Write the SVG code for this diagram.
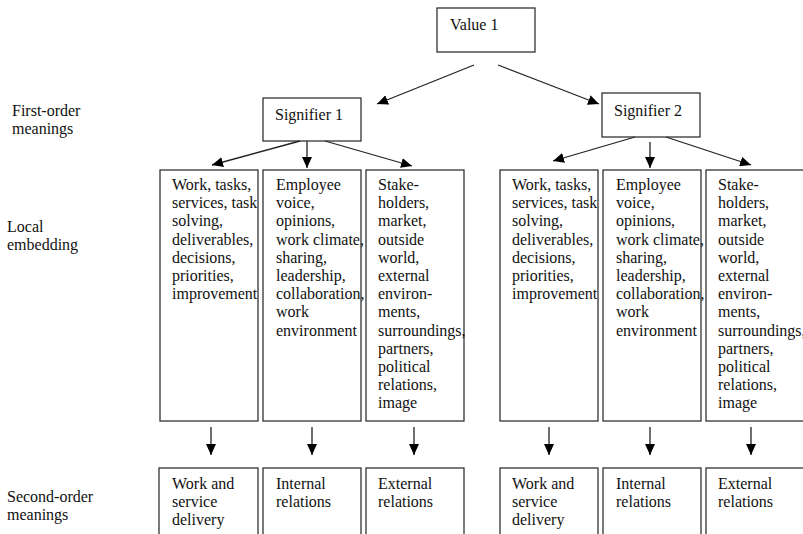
<svg xmlns="http://www.w3.org/2000/svg" width="803" height="534" viewBox="0 0 803 534" font-family="'Liberation Serif', 'Times New Roman', 'DejaVu Serif', serif" font-size="16">
<defs>
<marker id="ah" markerWidth="12" markerHeight="10" refX="11" refY="5" orient="auto" markerUnits="userSpaceOnUse">
<path d="M0,0 L11,5 L0,10 Z" fill="#000"/>
</marker>
<style>
rect{fill:#fff;stroke:#333;stroke-width:1.3}
text{font-family:'Liberation Serif','Times New Roman','DejaVu Serif',serif;font-size:16px;fill:#111}
.c line{stroke:#222;stroke-width:1.3;marker-end:url(#ah)}
</style>
</defs>
<rect x="0" y="0" width="803" height="534" style="fill:#fff;stroke:none"/>
<g id="labels">
<text x="12" y="116">First-order</text>
<text x="12" y="134">meanings</text>
<text x="7" y="232">Local</text>
<text x="7" y="250">embedding</text>
<text x="7" y="502">Second-order</text>
<text x="7" y="520">meanings</text>
</g>
<g id="value1"><rect x="437" y="8" width="98" height="44"/><text x="450" y="30">Value 1</text></g>
<g id="signifier1"><rect x="263" y="98" width="98" height="43"/><text x="275" y="120">Signifier 1</text></g>
<g id="signifier2"><rect x="602" y="93" width="98" height="44"/><text x="614" y="116">Signifier 2</text></g>
<g id="l1"><rect x="160" y="170" width="98" height="251"/>
<text x="172" y="190">Work, tasks,<tspan x="172" dy="18.2">services, task</tspan><tspan x="172" dy="18.2">solving,</tspan><tspan x="172" dy="18.2">deliverables,</tspan><tspan x="172" dy="18.2">decisions,</tspan><tspan x="172" dy="18.2">priorities,</tspan><tspan x="172" dy="18.2">improvement</tspan></text></g>
<g id="l2"><rect x="263" y="170" width="98" height="251"/>
<text x="276" y="190">Employee<tspan x="276" dy="18.2">voice,</tspan><tspan x="276" dy="18.2">opinions,</tspan><tspan x="276" dy="18.2">work climate,</tspan><tspan x="276" dy="18.2">sharing,</tspan><tspan x="276" dy="18.2">leadership,</tspan><tspan x="276" dy="18.2">collaboration,</tspan><tspan x="276" dy="18.2">work</tspan><tspan x="276" dy="18.2">environment</tspan></text></g>
<g id="l3"><rect x="366" y="170" width="98" height="251"/>
<text x="378" y="190">Stake-<tspan x="378" dy="18.2">holders,</tspan><tspan x="378" dy="18.2">market,</tspan><tspan x="378" dy="18.2">outside</tspan><tspan x="378" dy="18.2">world,</tspan><tspan x="378" dy="18.2">external</tspan><tspan x="378" dy="18.2">environ-</tspan><tspan x="378" dy="18.2">ments,</tspan><tspan x="378" dy="18.2">surroundings,</tspan><tspan x="378" dy="18.2">partners,</tspan><tspan x="378" dy="18.2">political</tspan><tspan x="378" dy="18.2">relations,</tspan><tspan x="378" dy="18.2">image</tspan></text></g>
<g id="l4"><rect x="500" y="170" width="98" height="251"/>
<text x="512" y="190">Work, tasks,<tspan x="512" dy="18.2">services, task</tspan><tspan x="512" dy="18.2">solving,</tspan><tspan x="512" dy="18.2">deliverables,</tspan><tspan x="512" dy="18.2">decisions,</tspan><tspan x="512" dy="18.2">priorities,</tspan><tspan x="512" dy="18.2">improvement</tspan></text></g>
<g id="l5"><rect x="603" y="170" width="98" height="251"/>
<text x="616" y="190">Employee<tspan x="616" dy="18.2">voice,</tspan><tspan x="616" dy="18.2">opinions,</tspan><tspan x="616" dy="18.2">work climate,</tspan><tspan x="616" dy="18.2">sharing,</tspan><tspan x="616" dy="18.2">leadership,</tspan><tspan x="616" dy="18.2">collaboration,</tspan><tspan x="616" dy="18.2">work</tspan><tspan x="616" dy="18.2">environment</tspan></text></g>
<g id="l6"><rect x="706" y="170" width="100" height="251"/>
<text x="718" y="190">Stake-<tspan x="718" dy="18.2">holders,</tspan><tspan x="718" dy="18.2">market,</tspan><tspan x="718" dy="18.2">outside</tspan><tspan x="718" dy="18.2">world,</tspan><tspan x="718" dy="18.2">external</tspan><tspan x="718" dy="18.2">environ-</tspan><tspan x="718" dy="18.2">ments,</tspan><tspan x="718" dy="18.2">surroundings,</tspan><tspan x="718" dy="18.2">partners,</tspan><tspan x="718" dy="18.2">political</tspan><tspan x="718" dy="18.2">relations,</tspan><tspan x="718" dy="18.2">image</tspan></text></g>
<g id="s1"><rect x="159" y="468" width="99" height="80"/><text x="172" y="489">Work and<tspan x="172" dy="18.2">service</tspan><tspan x="172" dy="18.2">delivery</tspan></text></g>
<g id="s2"><rect x="263" y="468" width="98" height="80"/><text x="276" y="489">Internal<tspan x="276" dy="18.2">relations</tspan></text></g>
<g id="s3"><rect x="366" y="468" width="98" height="80"/><text x="378" y="489">External<tspan x="378" dy="18.2">relations</tspan></text></g>
<g id="s4"><rect x="500" y="468" width="98" height="80"/><text x="512" y="489">Work and<tspan x="512" dy="18.2">service</tspan><tspan x="512" dy="18.2">delivery</tspan></text></g>
<g id="s5"><rect x="603" y="468" width="98" height="80"/><text x="616" y="489">Internal<tspan x="616" dy="18.2">relations</tspan></text></g>
<g id="s6"><rect x="706" y="468" width="100" height="80"/><text x="718" y="489">External<tspan x="718" dy="18.2">relations</tspan></text></g>
<g id="connectors" class="c">
<line x1="474" y1="65" x2="377" y2="104"/>
<line x1="498" y1="65" x2="599" y2="104"/>
<line x1="300" y1="141" x2="212" y2="165"/>
<line x1="307" y1="141" x2="307" y2="168"/>
<line x1="325" y1="141" x2="412" y2="166"/>
<line x1="635" y1="137" x2="553" y2="161"/>
<line x1="650" y1="142" x2="650" y2="168"/>
<line x1="666" y1="137" x2="751" y2="165"/>
<line x1="211" y1="427" x2="211" y2="455"/>
<line x1="312" y1="427" x2="312" y2="455"/>
<line x1="414" y1="427" x2="414" y2="455"/>
<line x1="549" y1="427" x2="549" y2="455"/>
<line x1="650" y1="427" x2="650" y2="455"/>
<line x1="751" y1="427" x2="751" y2="455"/>
</g>
</svg>
